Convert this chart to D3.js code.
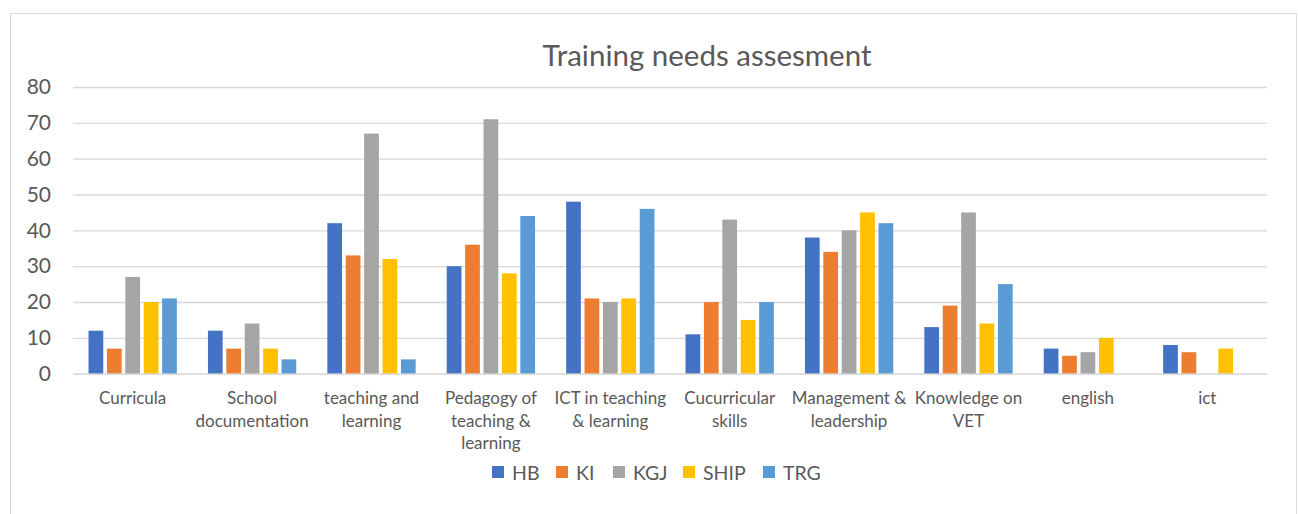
<!DOCTYPE html>
<html><head><meta charset="utf-8">
<script src="https://cdn.jsdelivr.net/npm/d3@7"></script>
<style>body{margin:0;background:#fff}svg{display:block}</style>
</head><body>
<script>
const categories = ["Curricula","School documentation","teaching and learning","Pedagogy of teaching & learning","ICT in teaching & learning","Cucurricular skills","Management & leadership","Knowledge on VET","english","ict"];
const categoryLines = [["Curricula"],["School","documentation"],["teaching and","learning"],["Pedagogy of","teaching &","learning"],["ICT in teaching","& learning"],["Cucurricular","skills"],["Management &","leadership"],["Knowledge on","VET"],["english"],["ict"]];
const seriesNames = ["HB","KI","KGJ","SHIP","TRG"];
const HB   = [12, 12, 42, 30, 48, 11, 38, 13, 7, 8];
const KI   = [7, 7, 33, 36, 21, 20, 34, 19, 5, 6];
const KGJ  = [27, 14, 67, 71, 20, 43, 40, 45, 6, null];
const SHIP = [20, 7, 32, 28, 21, 15, 45, 14, 10, 7];
const TRG  = [21, 4, 4, 44, 46, 20, 42, 25, null, null];
const seriesValues = [HB, KI, KGJ, SHIP, TRG];
const colors = ["#4472C4","#ED7D31","#A5A5A5","#FFC000","#5B9BD5"];
const yTicks = [0,10,20,30,40,50,60,70,80];
const title = "Training needs assesment";

const W = 1298, H = 514;
const font = "Lato, 'Open Sans', sans-serif";
const svg = d3.select("body").append("svg").attr("width", W).attr("height", H);
svg.append("rect").attr("x", 10.5).attr("y", 13.5).attr("width", 1286).attr("height", 520)
  .attr("fill", "#fff").attr("stroke", "#d9d9d9").attr("stroke-width", 1);

const x0 = d3.scaleBand().domain(categories).range([73, 1267]);
const y = d3.scaleLinear().domain([0, 80]).range([373.7, 87]);
const x1 = d3.scaleBand().domain(seriesNames).range([-46, 46]).paddingInner(0.2).paddingOuter(0.1);

// gridlines
const yAxis = d3.axisLeft(y).tickValues(yTicks).tickSize(-(1267 - 73)).tickPadding(22);
const gy = svg.append("g").attr("transform", "translate(73,0)").call(yAxis);
gy.select(".domain").remove();
gy.selectAll(".tick line").attr("stroke", "#d9d9d9").attr("stroke-width", 1.3);
gy.selectAll(".tick text").attr("fill", "#595959").style("font-family", font).style("font-size", "21px");

// bars
const groups = svg.append("g").selectAll("g").data(categories).join("g")
  .attr("transform", d => `translate(${x0(d) + x0.bandwidth() / 2},0)`);
groups.selectAll("rect")
  .data((c, i) => seriesNames.map((s, j) => ({ s, v: seriesValues[j][i], color: colors[j] })).filter(d => d.v != null))
  .join("rect")
  .attr("x", d => x1(d.s))
  .attr("width", x1.bandwidth())
  .attr("y", d => y(d.v))
  .attr("height", d => y(0) - y(d.v))
  .attr("fill", d => d.color);

// x axis baseline
const xAxis = d3.axisBottom(x0).tickSize(0).tickFormat("");
const gx = svg.append("g").attr("transform", `translate(0,${y(0)})`).call(xAxis);
gx.select(".domain").attr("stroke", "#d9d9d9").attr("stroke-width", 1.3);

// category labels
const labels = svg.append("g").selectAll("text").data(categories).join("text")
  .attr("x", d => x0(d) + x0.bandwidth() / 2)
  .attr("y", 404)
  .attr("text-anchor", "middle")
  .attr("fill", "#595959").style("font-family", font).style("font-size", "17px");
labels.each(function(d, i) {
  d3.select(this).selectAll("tspan").data(categoryLines[i]).join("tspan")
    .attr("x", x0(d) + x0.bandwidth() / 2)
    .attr("dy", (t, k) => k === 0 ? 0 : 22.5)
    .text(t => t);
});

// title
svg.append("text").attr("x", 707).attr("y", 66).attr("text-anchor", "middle")
  .attr("fill", "#595959").style("font-family", font).style("font-size", "29.5px").text(title);

// legend
const legendX = [492, 556, 613, 683, 763];
const lg = svg.append("g").selectAll("g").data(seriesNames).join("g")
  .attr("transform", (d, i) => `translate(${legendX[i]},466)`);
lg.append("rect").attr("width", 12).attr("height", 12).attr("fill", (d, i) => colors[i]);
lg.append("text").attr("x", 20).attr("y", 13.5).attr("fill", "#595959")
  .style("font-family", font).style("font-size", "19.5px").text(d => d);
</script>
</body></html>
